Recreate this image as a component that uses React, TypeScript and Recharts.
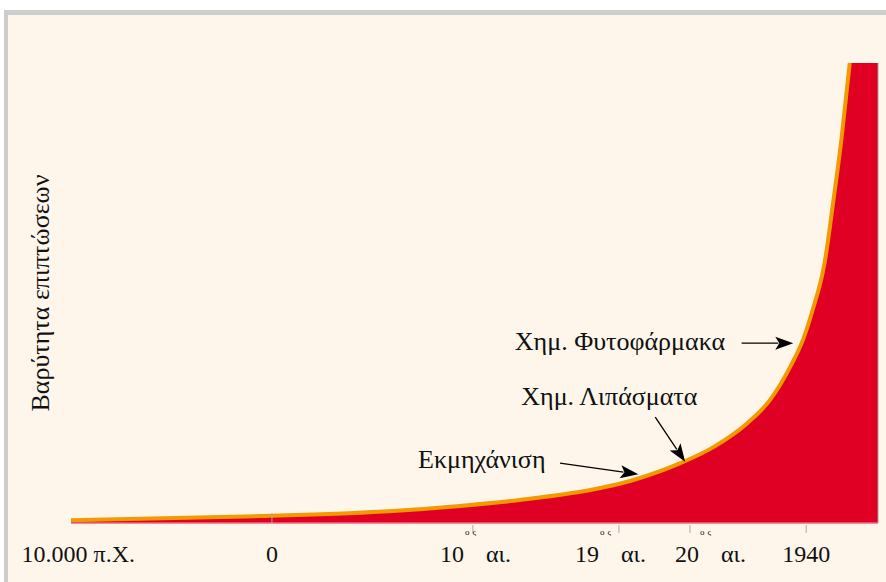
import React from 'react';
import { ComposedChart, Area, Line, XAxis, YAxis, ReferenceLine, ReferenceDot } from 'recharts';

// position along the (non-linear) timeline, 0..1000
const positions = [0, 234, 399, 482, 556, 656, 696, 755, 796, 838, 866, 891, 907, 919, 934, 944, 955, 965, 1000];
// severity of impacts, 0..100
const severity = [0.6, 1.5, 2.6, 3.7, 5.0, 7.6, 9.3, 13.0, 16.5, 21.7, 26.7, 33.9, 39.8, 46.3, 56.7, 69.1, 83.9, 100, 100];

const tickPositions = [9, 249, 498, 679, 767, 911];
const tickNumbers = ['10.000 π.Χ.', '0', '10', '19', '20', '1940'];
const tickSuper = ['', '', 'ος', 'ος', 'ος', ''];
const tickSuffix = ['', '', 'αι.', 'αι.', 'αι.', ''];

const notes = ['Χημ. Φυτοφάρμακα', 'Χημ. Λιπάσματα', 'Εκμηχάνιση'];
const noteAt = [
  { x: 550, y: 37.6 },
  { x: 558, y: 25.6 },
  { x: 430, y: 12.0 },
];
const arrowFrom = [
  { x: 831, y: 39.1 },
  { x: 724, y: 23.0 },
  { x: 606, y: 13.0 },
];
const arrowTo = [
  { x: 895, y: 39.1 },
  { x: 761, y: 13.3 },
  { x: 703, y: 10.6 },
];

const yTitle = 'Βαρύτητα επιπτώσεων';

const data = positions.map((p, i) => ({
  pos: p,
  area: severity[i],
  curve: i < positions.length - 1 ? severity[i] : null,
}));

const FONT = '"Liberation Serif", "DejaVu Serif", serif';
const RED = '#df0024';
const ORANGE = '#f29a00';
const AXIS = '#a8a8a8';

// tick mark direction and label start offset (centuries are left-aligned)
const tickMark = [0, -10, 10, 10, 10, 10];
const tickStart = [null, null, -33, -44, -15, null];

const TimeTick = (props: any) => {
  const { x, y, index } = props;
  const mark = tickMark[index];
  const start = tickStart[index];
  return (
    <g>
      {mark !== 0 && <line x1={x} x2={x} y1={mark < 0 ? y - 10 : y + 2} y2={mark < 0 ? y : y + 10} stroke={AXIS} />}
      {start === null ? (
        <text x={x} y={y + 39} textAnchor="middle" fontFamily={FONT} fontSize={24} fill="#111">
          {tickNumbers[index]}
        </text>
      ) : (
        <g fontFamily={FONT} fill="#111">
          <text x={x + start} y={y + 39} fontSize={24}>{tickNumbers[index]}</text>
          <text x={x + start + 25} y={y + 12} fontSize={9} letterSpacing={3}>{tickSuper[index]}</text>
          <text x={x + start + 46} y={y + 39} fontSize={24}>{tickSuffix[index]}</text>
        </g>
      )}
    </g>
  );
};

const Arrow = (props: any) => {
  const { x1, y1, x2, y2 } = props;
  const ang = Math.atan2(y2 - y1, x2 - x1);
  const len = 18;
  const w = 6.5;
  const bx = x2 - len * Math.cos(ang);
  const by = y2 - len * Math.sin(ang);
  const px = -Math.sin(ang) * w;
  const py = Math.cos(ang) * w;
  return (
    <g>
      <line x1={x1} y1={y1} x2={bx + 3 * Math.cos(ang)} y2={by + 3 * Math.sin(ang)} stroke="#000" strokeWidth={1.3} />
      <polygon points={`${x2},${y2} ${bx + px},${by + py} ${bx + 4 * Math.cos(ang)},${by + 4 * Math.sin(ang)} ${bx - px},${by - py}`} fill="#000" />
    </g>
  );
};

export default function App() {
  return (
    <div style={{ position: 'absolute', left: 0, top: 0, width: 886, height: 582, background: '#fff', overflow: 'hidden' }}>
      <div
        style={{
          position: 'absolute', left: 4, top: 10, right: 0, bottom: 0,
          background: '#fef6eb', borderLeft: '4px solid #cdcdcd', borderTop: '5px solid #cdcdcd',
        }}
      />
      <svg width={80} height={582} style={{ position: 'absolute', left: 0, top: 0 }}>
        <text x={40} y={293} transform="rotate(-90 40 293)" textAnchor="middle" dominantBaseline="central" fontFamily={FONT} fontSize={26} fill="#111">
          {yTitle}
        </text>
      </svg>
      <div style={{ position: 'absolute', left: 0, top: 0 }}>
        <ComposedChart width={886} height={582} data={data} margin={{ top: 63, right: 8, bottom: 0, left: 71 }}>
          <XAxis
            dataKey="pos"
            type="number"
            domain={[0, 1000]}
            ticks={tickPositions}
            interval={0}
            axisLine={false}
            tickLine={false}
            tickSize={0}
            tickMargin={0}
            height={59}
            tick={<TimeTick />}
          />
          <YAxis
            type="number"
            domain={[0, 100]}
            width={0}
            tick={false}
            tickLine={false}
            axisLine={{ stroke: AXIS }}
          />
          <Area
            type="monotone"
            dataKey="area"
            stroke="none"
            fill={RED}
            fillOpacity={1}
            isAnimationActive={false}
          />
          <Line
            type="monotone"
            dataKey="curve"
            stroke={ORANGE}
            strokeWidth={4}
            dot={false}
            isAnimationActive={false}
          />
          <ReferenceLine y={0} stroke="#ec6a7c" strokeWidth={1.5} />
          <ReferenceLine x={1000} stroke="#999" strokeWidth={1} />
          {notes.map((n, i) => (
            <ReferenceLine
              key={`a-${i}`}
              segment={[arrowFrom[i], arrowTo[i]]}
              shape={(p: any) => <Arrow {...p} />}
            />
          ))}
          {notes.map((n, i) => (
            <ReferenceDot
              key={`t-${i}`}
              x={noteAt[i].x}
              y={noteAt[i].y}
              r={0}
              shape={(p: any) => (
                <text x={p.cx} y={p.cy} fontFamily={FONT} fontSize={26} fill="#111">
                  {n}
                </text>
              )}
            />
          ))}
        </ComposedChart>
      </div>
    </div>
  );
}
